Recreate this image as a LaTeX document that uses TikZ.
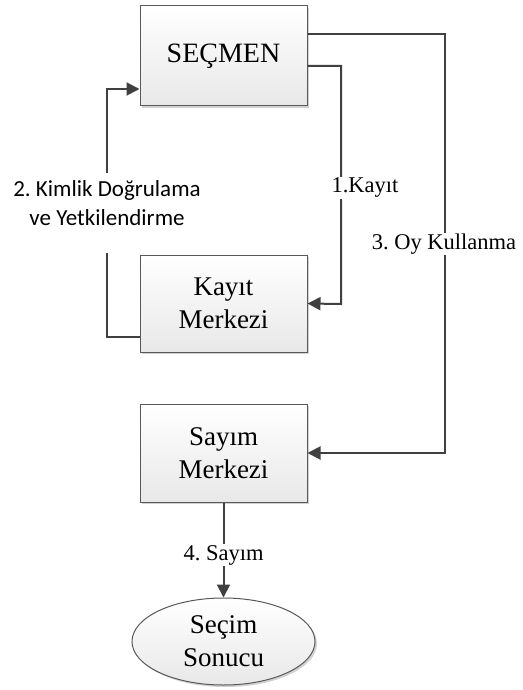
\documentclass[tikz,border=0pt]{standalone}
\usepackage{fontspec}
\setmainfont{Liberation Serif}
\newfontfamily\calibrifont{Carlito}
\usetikzlibrary{arrows.meta,shapes.geometric,shadows,calc}
\definecolor{linegray}{HTML}{404040}
\definecolor{edgegray}{HTML}{595959}
\frenchspacing
\begin{document}
\begin{tikzpicture}[x=1pt,y=-1pt,
  box/.style={draw=edgegray, line width=1pt, rectangle, minimum width=167pt,
    top color=white, bottom color=black!9, align=center,
    drop shadow={shadow xshift=2pt, shadow yshift=-2pt, fill=black!18, opacity=1},
    font=\fontsize{27}{33}\selectfont, inner sep=0pt},
  oval/.style={draw=edgegray, line width=1pt, ellipse, minimum width=183pt, minimum height=87pt,
    top color=white, bottom color=black!9, align=center, inner sep=0pt,
    drop shadow={shadow xshift=2pt, shadow yshift=-2pt, fill=black!18, opacity=1},
    font=\fontsize{27}{33}\selectfont},
  link/.style={draw=linegray, line width=2pt},
  arr/.style={link, -{Triangle[length=13pt,width=13pt]}},
  lbl/.style={fill=white, inner sep=1pt, font=\fontsize{22.5}{27}\selectfont},
  slbl/.style={inner sep=1pt, align=center, font=\calibrifont\fontsize{23}{29}\selectfont}]
\useasboundingbox (0,0) rectangle (522,690);

% process boxes
\node[box, minimum height=100pt, font=\fontsize{28}{33}\selectfont] (secmen) at (223.5,56) {SEÇMEN};
\node[box, minimum height=97pt] (kayit) at (223.5,303.5) {Kayıt\\Merkezi};
\node[box, minimum height=98pt] (sayim) at (223.5,453) {Sayım\\Merkezi};
\node[oval] (sonuc) at (223.5,641.5) {Seçim\\Sonucu};

% 1. registration
\coordinate (r1) at ([yshift=-10pt]secmen.east);
\draw[arr] (r1) -- (341,66) -- (341,304) -- (kayit.east);
\node[lbl] (l1) at (365,188) {1.Kayıt};

% 2. identity verification and authorization (line broken around its label)
\coordinate (k2) at ([yshift=-33.5pt]kayit.west);
\coordinate (s2) at ([yshift=-33pt]secmen.west);
\coordinate (g2low) at (107,253);
\coordinate (g2high) at (107,173);
\draw[link] (k2) -- (107,337) -- (g2low);
\draw[arr] (g2high) -- (107,89) -- (s2);
\node[slbl] (l2) at (107,203) {2. Kimlik Doğrulama\\ve Yetkilendirme};

% 3. voting
\coordinate (r3) at ([yshift=22pt]secmen.east);
\draw[arr] (r3) -- (445,34) -- (445,453) -- (sayim.east);
\node[lbl] (l3) at (444,244) {3. Oy Kullanma};

% 4. counting
\draw[arr] (sayim.south) -- (sonuc.north);
\node[lbl] (l4) at (223.5,555) {4. Sayım};
\end{tikzpicture}
\end{document}
